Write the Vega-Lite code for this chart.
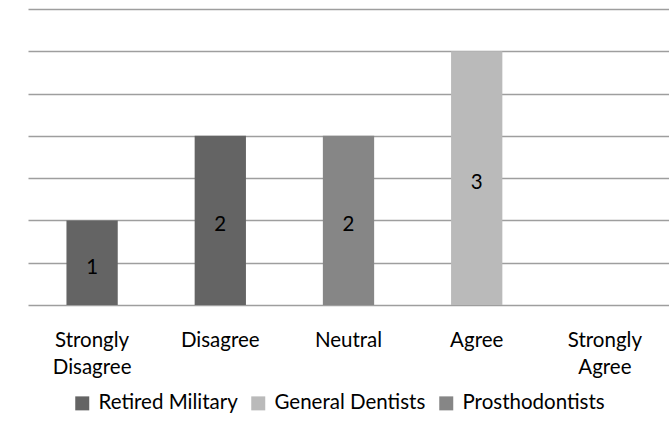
{
  "$schema": "https://vega.github.io/schema/vega-lite/v6.json",
  "width": 641,
  "height": 296,
  "autosize": "none",
  "padding": {"left": 28, "top": 9, "right": 0, "bottom": 118},
  "background": "white",
  "config": {
    "view": {"stroke": null},
    "font": "Lato",
    "text": {"font": "Lato"}
  },
  "data": {
    "values": [
      {"response": "Strongly Disagree", "group": "Retired Military", "count": 1},
      {"response": "Disagree", "group": "Retired Military", "count": 2},
      {"response": "Neutral", "group": "Prosthodontists", "count": 2},
      {"response": "Agree", "group": "General Dentists", "count": 3}
    ]
  },
  "encoding": {
    "x": {
      "field": "response",
      "type": "nominal",
      "scale": {
        "domain": ["Strongly Disagree", "Disagree", "Neutral", "Agree", "Strongly Agree"],
        "paddingInner": 0.6,
        "paddingOuter": 0.3
      },
      "axis": {
        "title": null,
        "domain": false,
        "ticks": false,
        "labelAngle": 0,
        "labelFont": "Lato",
        "labelFontSize": 20.5,
        "labelColor": "#000000",
        "labelPadding": 25,
        "labelLineHeight": 27.5,
        "labelExpr": "split(datum.label, ' ')"
      }
    }
  },
  "layer": [
    {
      "mark": {"type": "bar"},
      "encoding": {
        "y": {
          "field": "count",
          "type": "quantitative",
          "scale": {"domain": [0, 3.5], "nice": false},
          "axis": {
            "title": null,
            "domain": false,
            "ticks": false,
            "labels": false,
            "grid": true,
            "gridColor": "#9e9e9e",
            "gridWidth": 1.5,
            "values": [0, 0.5, 1, 1.5, 2, 2.5, 3, 3.5]
          }
        },
        "color": {
          "field": "group",
          "type": "nominal",
          "scale": {
            "domain": ["Retired Military", "General Dentists", "Prosthodontists"],
            "range": ["#646464", "#bababa", "#868686"]
          },
          "legend": {
            "title": null,
            "orient": "none",
            "direction": "horizontal",
            "legendX": 44,
            "legendY": 384,
            "symbolType": "square",
            "symbolSize": 196,
            "symbolStrokeWidth": 0,
            "labelFont": "Lato",
            "labelFontSize": 20.5,
            "labelColor": "#000000",
            "labelOffset": 6,
            "columnPadding": 10
          }
        }
      }
    },
    {
      "mark": {"type": "text", "fontSize": 20.5, "font": "Lato", "color": "#000000", "baseline": "middle", "dy": 5},
      "encoding": {
        "y": {
          "field": "count",
          "type": "quantitative",
          "scale": {"domain": [0, 7], "nice": false},
          "axis": null
        },
        "text": {"field": "count", "type": "quantitative"}
      }
    }
  ],
  "resolve": {"scale": {"y": "independent"}}
}
